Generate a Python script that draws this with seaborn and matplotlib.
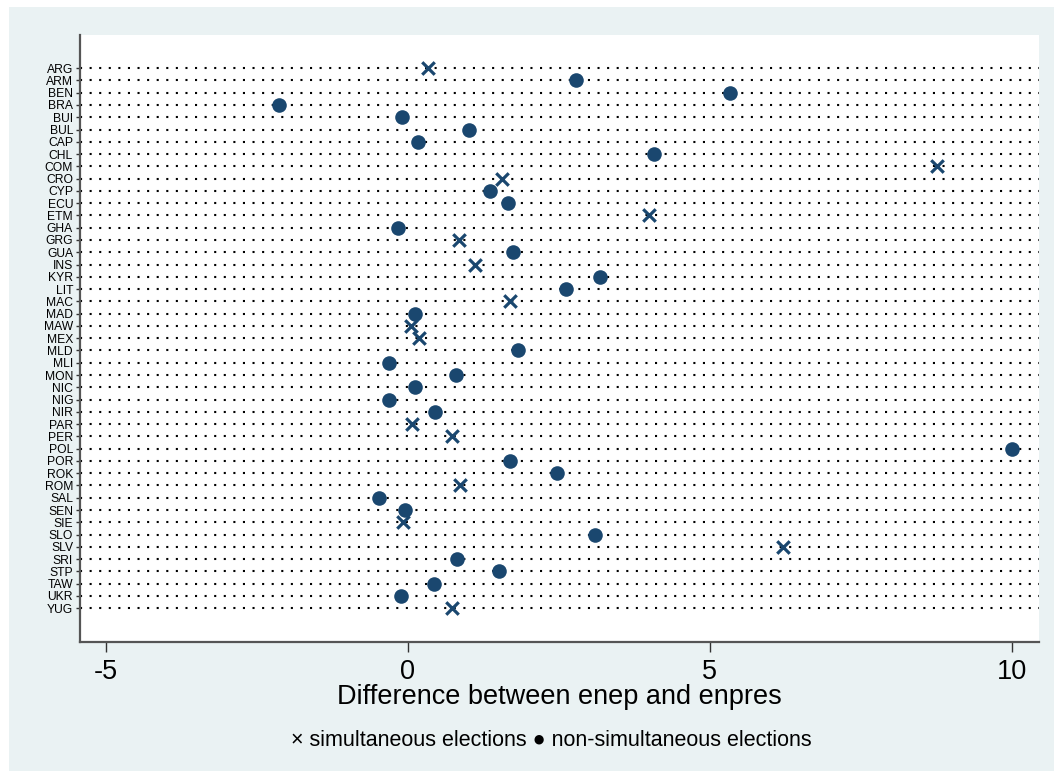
import matplotlib
matplotlib.use("Agg")
import matplotlib.pyplot as plt
import seaborn as sns
import pandas as pd
from matplotlib.patches import Rectangle

countries = ["ARG", "ARM", "BEN", "BRA", "BUI", "BUL", "CAP", "CHL", "COM", "CRO",
             "CYP", "ECU", "ETM", "GHA", "GRG", "GUA", "INS", "KYR", "LIT", "MAC",
             "MAD", "MAW", "MEX", "MLD", "MLI", "MON", "NIC", "NIG", "NIR", "PAR",
             "PER", "POL", "POR", "ROK", "ROM", "SAL", "SEN", "SIE", "SLO", "SLV",
             "SRI", "STP", "TAW", "UKR", "YUG"]
difference = [0.33, 2.78, 5.33, -2.14, -0.10, 1.01, 0.17, 4.07, 8.76, 1.56,
              1.36, 1.66, 4.00, -0.17, 0.84, 1.74, 1.11, 3.18, 2.62, 1.69,
              0.12, 0.05, 0.18, 1.82, -0.31, 0.79, 0.12, -0.31, 0.45, 0.07,
              0.73, 10.00, 1.69, 2.47, 0.86, -0.48, -0.05, -0.08, 3.10, 6.21,
              0.81, 1.51, 0.43, -0.12, 0.73]
simultaneous = [1, 0, 0, 0, 0, 0, 0, 0, 1, 1,
                0, 0, 1, 0, 1, 0, 1, 0, 0, 1,
                0, 1, 1, 0, 0, 0, 0, 0, 0, 1,
                1, 0, 0, 0, 1, 0, 0, 1, 0, 1,
                0, 0, 0, 0, 1]
xticks = [-5, 0, 5, 10]
xlabel = "Difference between enep and enpres"
legend_text = "\u00d7 simultaneous elections \u25cf non-simultaneous elections"

df = pd.DataFrame({"country": countries, "diff": difference, "sim": simultaneous})

sns.set_style("white")
plt.rcParams["font.family"] = ["Liberation Sans", "DejaVu Sans"]
plt.rcParams["text.color"] = "black"
plt.rcParams["xtick.color"] = "black"
plt.rcParams["ytick.color"] = "black"
plt.rcParams["axes.labelcolor"] = "black"

W, H = 1054, 771
fig = plt.figure(figsize=(W / 100, H / 100), dpi=100, facecolor="white")
fig.patches.append(Rectangle((9 / W, 0), 1 - 9 / W, 1 - 7 / H, transform=fig.transFigure,
                             facecolor="#EAF2F3", edgecolor="none", zorder=-10))

ax = fig.add_axes([80 / W, 1 - 642 / H, (1039 - 80) / W, (642 - 35) / H])
ax.set_facecolor("white")

navy = "#1A476F"
sns.stripplot(data=df[df["sim"] == 0], x="diff", y="country", order=countries,
              orient="h", jitter=False, marker="o", s=10.5, color=navy,
              linewidth=0, ax=ax, zorder=3)
sns.stripplot(data=df[df["sim"] == 1], x="diff", y="country", order=countries,
              orient="h", jitter=False, marker="x", s=9, color=navy,
              linewidth=2.3, ax=ax, zorder=3)

n = len(countries)
ax.set_ylim(n - 1 + 2.75, -2.7)
ax.set_xlim(-5.43, 10.45)
ax.set_xticks(xticks)
ax.set_xticklabels([str(t) for t in xticks])

ax.yaxis.grid(True, linestyle=(0, (1, 3.6)), color="black", linewidth=1.5)
ax.xaxis.grid(False)
ax.set_axisbelow(True)

for s in ["top", "right"]:
    ax.spines[s].set_visible(False)
for s in ["left", "bottom"]:
    ax.spines[s].set_color("#555555")
    ax.spines[s].set_linewidth(1.6)

ax.tick_params(axis="y", which="major", left=True, length=3, width=1, color="#333333",
               labelcolor="black", labelsize=8.7, pad=2)
ax.tick_params(axis="x", which="major", bottom=True, length=7.2, width=1, color="#333333",
               labelcolor="black", labelsize=19.5, pad=5)

ax.set_ylabel("")
ax.set_xlabel(xlabel, fontsize=19.5, va="center", color="black")
ax.xaxis.set_label_coords(0.5, -55 / 607)

fig.text(0.5228, 1 - 740 / H, legend_text, ha="center", va="center", fontsize=15.5,
         color="black")

fig.savefig("out.png", dpi=100)
